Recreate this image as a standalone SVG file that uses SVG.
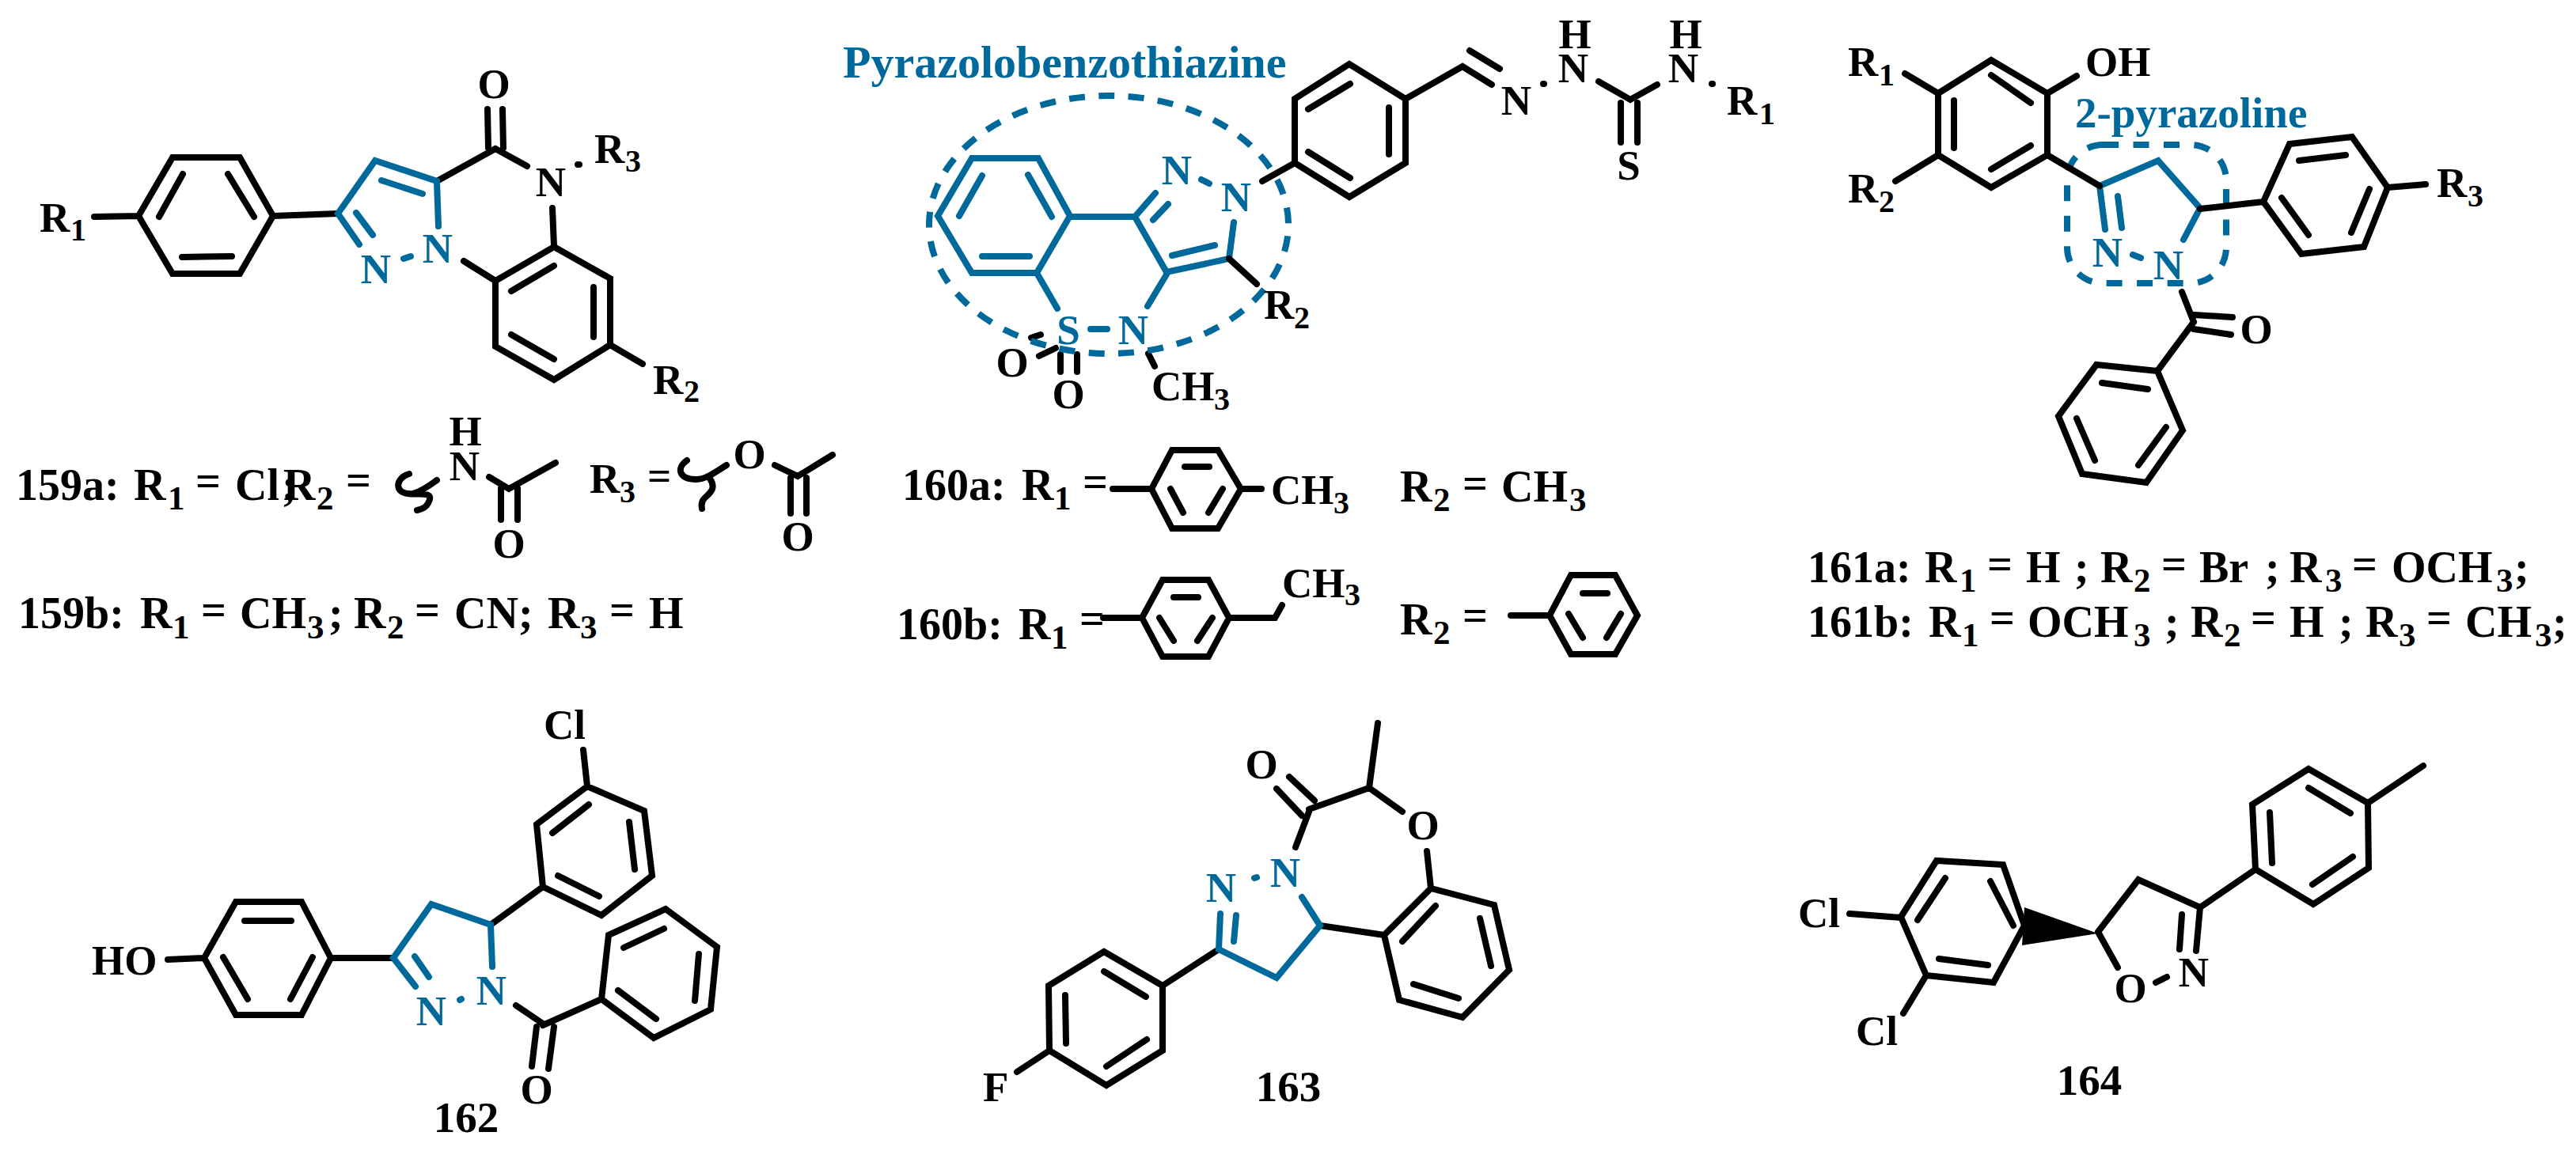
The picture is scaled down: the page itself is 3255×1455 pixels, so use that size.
<svg xmlns="http://www.w3.org/2000/svg" width="3255" height="1455" viewBox="0 0 3255 1455">
<style>
text{font-family:"Liberation Serif","Times New Roman",serif;font-weight:bold;font-size:56px;fill:#000}
.m{text-anchor:middle}
.c{fill:#00699b}
.u{font-size:43px}
.a text,text.a{font-size:53px}
.a .u,text.a .u{font-size:40px}
.a .n{font-size:55px}
.k,.l,.d{fill:none;stroke-linecap:round;stroke-linejoin:miter}
.k{stroke:#000;stroke-width:8}
.l{stroke:#00699b;stroke-width:8}
.d{stroke:#00699b;stroke-width:8;stroke-linecap:butt}
</style>
<rect width="3255" height="1455" fill="#fff"/>

<g id="compound-159" class="a">
<path class="k" d="M175 273L218 199H303L345 273L303 346H218ZM201 274L231 220M288 220L321 274M230 325L293 324M119 274L175 273M345 273L427 270M552 229L626 188M616 138L617 187M635 138L636 187M626 188L666 210M730 208L732 208M698 263L700 311M700 312L771 352V436L700 480L626 438V355ZM646 368L700 336M750 363V426M646 423L700 454M586 330L626 355M771 436L812 460"/>
<path class="l" d="M454 309L427 270L474 203L552 229L554 286M450 269L471 297M482 228L534 245M510 327L519 324"/>
<text x="50" y="293">R<tspan class="u" x="89" y="304">1</tspan></text>
<text class="m c" x="475" y="358">N</text>
<text class="m c" x="553" y="332">N</text>
<text class="m" x="624" y="124">O</text>
<text class="m" x="696" y="248">N</text>
<text x="751" y="206">R<tspan class="u" x="790" y="217">3</tspan></text>
<text x="825" y="498">R<tspan class="u" x="864" y="508">2</tspan></text>
</g>

<g id="label-159a">
<path class="k" d="M517 599C500 604 498 622 515 624C530 626 550 620 541 636C538 642 532 644 527 645M522 624C535 620 545 612 552 607M618 603L643 618L702 585M633 617V657M654 617V657M868 582C854 592 858 606 880 606C892 606 905 596 918 588M897 605C906 618 896 624 890 630C886 634 886 638 887 643M979 588L1008 602L1052 575M999 604V649M1019 604V649"/>
<text x="20" y="632">159a:<tspan x="169">R</tspan><tspan class="u" x="212" y="644">1</tspan><tspan x="247" y="627">=</tspan><tspan x="297" y="632">Cl</tspan><tspan x="356">;</tspan><tspan x="358">R</tspan><tspan class="u" x="400" y="644">2</tspan><tspan x="437" y="626">=</tspan></text>
<text class="m a" x="588" y="563">H</text>
<text class="m a" x="587" y="607">N</text>
<text class="m a" x="643" y="705">O</text>
<text class="a" x="745" y="623">R<tspan class="u" x="783" y="635">3</tspan><tspan x="818" y="619">=</tspan></text>
<text class="m a" x="947" y="592">O</text>
<text class="m a" x="1008" y="696">O</text>
</g>

<g id="label-159b">
<text x="23" y="794">159b:<tspan x="177">R</tspan><tspan class="u" x="218" y="807">1</tspan><tspan x="254" y="790">=</tspan><tspan x="303" y="794">CH</tspan><tspan class="u" x="388" y="807">3</tspan><tspan x="415" y="794">;</tspan><tspan x="447">R</tspan><tspan class="u" x="489" y="807">2</tspan><tspan x="524" y="790">=</tspan><tspan x="574" y="794">CN;</tspan><tspan x="692">R</tspan><tspan class="u" x="733" y="807">3</tspan><tspan x="770" y="790">=</tspan><tspan x="820" y="794">H</tspan></text>
</g>

<g id="compound-160" class="a">
<path class="k" d="M1303 427L1315 423M1313 450L1334 440M1340 448V470M1361 448V470M1451 447L1459 463"/>
<ellipse class="d" cx="1401" cy="284" rx="227" ry="163" stroke-dasharray="20 17.4" stroke-dashoffset="23"/>
<path class="l" d="M1185 273L1228 200H1312L1352 273L1310 345H1228ZM1212 273L1241 222M1299 221L1329 274M1241 324H1301M1352 274H1434M1460 244L1434 274L1474 344L1553 327L1559 281M1457 278L1476 258M1518 227L1528 232M1481 323L1535 310M1474 347L1450 387M1378 416H1399M1310 345L1336 390"/>
<path class="k" d="M1553 327L1588 359M1595 229L1636 206M1636 206V125L1705 81L1776 125V206L1705 249ZM1653 138L1706 106M1755 136V195M1653 192L1706 225M1776 125L1848 84L1885 107M1857 64L1895 87M1950 106H1951M2020 103L2060 126L2094 107M2048 130V180M2069 130V180M2163 106H2164"/>
<text class="c" x="1065" y="98" style="font-size:58px">Pyrazolobenzothiazine</text>
<text class="m c" x="1487" y="233">N</text>
<text class="m c" x="1562" y="267">N</text>
<text class="m c" x="1432" y="435">N</text>
<text class="m c" x="1350" y="435">S</text>
<text x="1597" y="403">R<tspan class="u" x="1635" y="415">2</tspan></text>
<text x="1455" y="506">CH<tspan class="u" x="1534" y="518">3</tspan></text>
<text class="m" x="1279" y="476">O</text>
<text class="m" x="1350" y="516">O</text>
<text class="m" x="1916" y="145">N</text>
<text class="m" x="1988" y="104">N</text>
<text class="m" x="1990" y="61">H</text>
<text class="m" x="2058" y="227">S</text>
<text class="m" x="2127" y="104">N</text>
<text class="m" x="2130" y="61">H</text>
<text x="2182" y="145">R<tspan class="u" x="2223" y="157">1</tspan></text>
</g>

<g id="label-160a">
<path class="k" d="M1406 618H1455L1481 569H1539L1568 618L1539 668H1481L1455 618M1497 590H1528M1479 618L1495 648M1545 618L1527 648M1568 618H1594"/>
<text x="1140" y="632">160a:<tspan x="1291">R</tspan><tspan class="u" x="1332" y="644">1</tspan><tspan x="1368" y="628">=</tspan></text>
<text class="a" x="1606" y="637">CH<tspan class="u" x="1685" y="649">3</tspan></text>
<text x="1769" y="634">R<tspan class="u" x="1811" y="646">2</tspan><tspan x="1848" y="630">=</tspan><tspan x="1897" y="634">CH</tspan><tspan class="u" x="1983" y="646">3</tspan></text>
</g>

<g id="label-160b">
<path class="k" d="M1394 781H1443L1469 733H1527L1553 781L1527 830H1469L1443 781M1483 755H1514M1465 781L1483 810M1532 781L1513 810M1553 781H1611L1620 765M1909 778H1958L1985 727H2041L2069 778L2041 827H1985L1958 778M2000 750H2031M1982 776L2000 806M2048 776L2030 806"/>
<text x="1133" y="808">160b:<tspan x="1287">R</tspan><tspan class="u" x="1328" y="820">1</tspan><tspan x="1364" y="801">=</tspan></text>
<text class="a" x="1620" y="755">CH<tspan class="u" x="1699" y="765">3</tspan></text>
<text x="1769" y="802">R<tspan class="u" x="1811" y="814">2</tspan><tspan x="1848" y="797">=</tspan></text>
</g>

<g id="compound-161" class="a">
<rect class="d" x="2612" y="183" width="201" height="175" rx="45" stroke-dasharray="20 18.5"/>
<path class="l" d="M2660 290L2653 235L2727 203L2780 263L2759 303M2676 248L2681 288M2695 322L2705 326"/>
<path class="k" d="M2449 118L2516 76L2587 118V196L2516 237L2449 196ZM2469 127V187M2516 95L2566 130M2516 214L2566 184M2407 93L2449 118M2587 118L2624 96M2449 196L2395 229M2587 196L2653 235M2780 264L2860 255M2860 255L2893 182L2972 173L3017 237L2987 312L2908 321ZM2905 203L2964 196M2994 239L2971 294M2883 250L2917 297M3017 237L3065 233M2757 369L2772 407M2772 398L2821 401M2772 416L2819 423M2772 407L2726 469M2726 469L2649 461L2601 526L2631 599L2712 610L2758 544ZM2656 484L2714 492M2624 529L2647 582M2737 540L2702 588"/>
<text x="2335" y="96">R<tspan class="u" x="2374" y="108">1</tspan></text>
<text x="2635" y="96">OH</text>
<text x="2335" y="256">R<tspan class="u" x="2374" y="268">2</tspan></text>
<text class="c" x="2622" y="161" style="font-size:55px">2-pyrazoline</text>
<text class="m c" x="2663" y="337">N</text>
<text class="m c" x="2740" y="353">N</text>
<text x="3079" y="249">R<tspan class="u" x="3118" y="261">3</tspan></text>
<text class="m" x="2851" y="434">O</text>
</g>

<g id="label-161">
<text x="2284" y="736">161a:<tspan x="2432">R</tspan><tspan class="u" x="2476" y="748">1</tspan><tspan x="2511" y="732">=</tspan><tspan x="2560" y="736">H</tspan><tspan x="2621">;</tspan><tspan x="2654">R</tspan><tspan class="u" x="2696" y="748">2</tspan><tspan x="2731" y="732">=</tspan><tspan x="2779" y="736">Br</tspan><tspan x="2862">;</tspan><tspan x="2893">R</tspan><tspan class="u" x="2938" y="748">3</tspan><tspan x="2972" y="732">=</tspan><tspan x="3022" y="736">OCH</tspan><tspan class="u" x="3154" y="748">3</tspan><tspan x="3177" y="736">;</tspan></text>
<text x="2284" y="805">161b:<tspan x="2437">R</tspan><tspan class="u" x="2479" y="817">1</tspan><tspan x="2514" y="800">=</tspan><tspan x="2562" y="805">OCH</tspan><tspan class="u" x="2696" y="817">3</tspan><tspan x="2735" y="805">;</tspan><tspan x="2768">R</tspan><tspan class="u" x="2810" y="817">2</tspan><tspan x="2844" y="800">=</tspan><tspan x="2893" y="805">H</tspan><tspan x="2955">;</tspan><tspan x="2989">R</tspan><tspan class="u" x="3031" y="817">3</tspan><tspan x="3066" y="800">=</tspan><tspan x="3115" y="805">CH</tspan><tspan class="u" x="3203" y="817">3</tspan><tspan x="3225" y="805">;</tspan></text>
</g>

<g id="compound-162" class="a">
<path class="k" d="M212 1213L258 1211M258 1211L298 1140H381L418 1211L381 1283H298ZM309 1164H368M282 1210L313 1263M395 1210L367 1263M418 1211H497M620 1169L686 1121M686 1121L678 1042L742 994L814 1025L824 1107L760 1157ZM698 1053L744 1017M795 1039L802 1099M705 1107L757 1133M742 994L737 948M652 1271L686 1294M686 1296L760 1263M678 1298L672 1348M700 1298L693 1351M760 1263L769 1182L841 1149L906 1197L898 1276L826 1312ZM788 1198L839 1174M883 1206L878 1265M781 1252L829 1288"/>
<path class="l" d="M525 1247L497 1211L545 1143L620 1169L622 1222M524 1209L542 1235M581 1264L583 1263"/>
<text x="116" y="1232">HO</text>
<text x="687" y="934">Cl</text>
<text class="m c" x="621" y="1270">N</text>
<text class="m c" x="545" y="1296">N</text>
<text class="m" x="678" y="1395">O</text>
<text class="m n" x="589" y="1431">162</text>
</g>

<g id="compound-163" class="a">
<path class="k" d="M1741 914L1730 996L1772 1026M1803 1076L1808 1123M1730 996L1654 1023M1661 1012L1629 982M1645 1031L1613 997M1654 1026L1637 1071M1668 1170L1749 1182M1749 1182L1808 1123L1888 1144L1907 1226L1848 1286L1768 1264ZM1772 1190L1814 1145M1870 1161L1884 1221M1786 1244L1843 1262M1540 1200L1469 1246M1469 1246L1395 1203L1325 1246L1326 1328L1398 1372L1469 1328ZM1395 1228L1448 1260M1346 1258L1347 1319M1398 1348L1449 1314M1326 1328L1285 1355"/>
<path class="l" d="M1645 1134L1668 1170L1613 1236L1540 1200L1542 1155M1559 1190L1562 1157M1585 1110L1588 1109"/>
<text class="m" x="1798" y="1061">O</text>
<text class="m" x="1594" y="984">O</text>
<text class="m c" x="1624" y="1121">N</text>
<text class="m c" x="1543" y="1140">N</text>
<text x="1242" y="1392">F</text>
<text class="m n" x="1628" y="1392">163</text>
</g>

<g id="compound-164" class="a">
<path class="k" d="M2402 1159L2447 1088L2531 1093L2558 1170L2519 1242L2434 1233ZM2423 1163L2458 1110M2515 1114L2544 1170M2450 1212L2512 1220M2337 1155L2402 1160M2434 1233L2405 1281M2651 1178L2676 1223M2724 1242L2738 1235M2651 1178L2702 1112L2780 1147L2775 1202M2757 1156L2754 1200M2780 1147L2850 1099M2850 1099L2846 1017L2917 972L2992 1015L2993 1097L2923 1143ZM2868 1027L2871 1091M2917 996L2970 1028M2922 1118L2973 1083M2992 1015L3062 968"/>
<polygon points="2651,1180 2558,1147 2555,1195" fill="#000"/>
<text x="2272" y="1172">Cl</text>
<text x="2345" y="1321">Cl</text>
<text class="m" x="2692" y="1267">O</text>
<text class="m" x="2772" y="1247">N</text>
<text class="m n" x="2640" y="1384">164</text>
</g>
</svg>
